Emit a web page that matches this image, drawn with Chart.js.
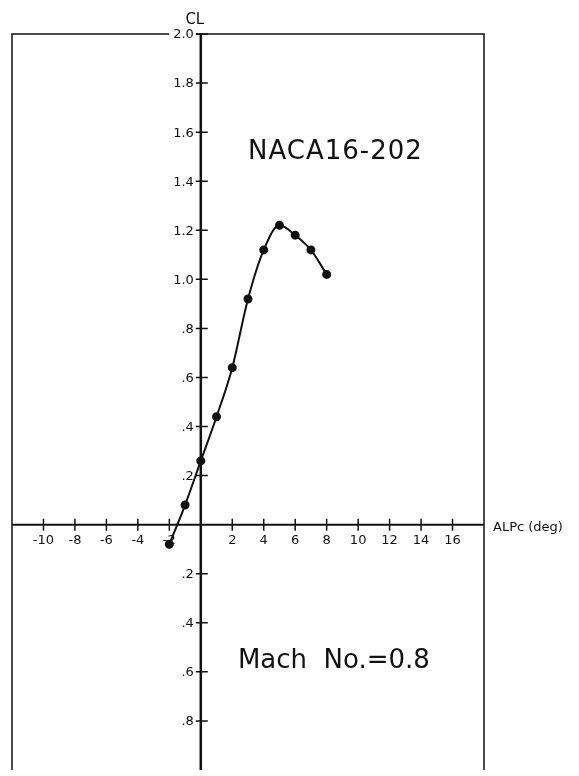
<!DOCTYPE html>
<html>
<head>
<meta charset="utf-8">
<script src="https://cdn.jsdelivr.net/npm/chart.js@4/dist/chart.umd.min.js"></script>
<style>
  html, body { margin: 0; padding: 0; background: #fff; }
  #wrap { width: 579px; height: 776px; }
</style>
</head>
<body>
<div id="wrap"><canvas id="lift-chart"></canvas></div>
<script>
// angle of attack (deg) and lift coefficient
const alphaDeg = [-2, -1, 0, 1, 2, 3, 4, 5, 6, 7, 8];
const liftCoef = [-0.08, 0.08, 0.26, 0.44, 0.64, 0.92, 1.12, 1.22, 1.18, 1.12, 1.02];

// tick values and the labels printed beside them
const xTickValues = [-10, -8, -6, -4, -2, 2, 4, 6, 8, 10, 12, 14, 16];
const xTickLabels = ['-10', '-8', '-6', '-4', '-2', '2', '4', '6', '8', '10', '12', '14', '16'];
const yTickValues = [-0.8, -0.6, -0.4, -0.2, 0.2, 0.4, 0.6, 0.8, 1.0, 1.2, 1.4, 1.6, 1.8, 2.0];
const yTickLabels = ['.8', '.6', '.4', '.2', '.2', '.4', '.6', '.8', '1.0', '1.2', '1.4', '1.6', '1.8', '2.0'];

const ctx = document.getElementById('lift-chart').getContext('2d');
const ink = '#111';

// draws the frame, the crossing axes, ticks and all the printed texts
const plotterAxes = {
  id: 'plotterAxes',
  beforeDatasetsDraw(chart) {
    const c = chart.ctx;
    const area = chart.chartArea;
    const xs = chart.scales.x;
    const ys = chart.scales.y;
    const x0 = xs.getPixelForValue(0);
    const y0 = ys.getPixelForValue(0);

    c.save();
    c.strokeStyle = ink;
    c.fillStyle = ink;
    c.lineCap = 'butt';

    // frame (left, top, right)
    c.lineWidth = 1.5;
    c.beginPath();
    c.moveTo(area.left, area.bottom);
    c.lineTo(area.left, area.top);
    c.lineTo(area.right, area.top);
    c.lineTo(area.right, area.bottom);
    c.stroke();

    // x axis
    c.lineWidth = 2;
    c.beginPath();
    c.moveTo(area.left, y0);
    c.lineTo(area.right, y0);
    c.stroke();

    // y axis
    c.lineWidth = 2.5;
    c.beginPath();
    c.moveTo(x0, area.top);
    c.lineTo(x0, area.bottom);
    c.stroke();

    // tick crosses
    c.lineWidth = 1.5;
    c.beginPath();
    xTickValues.forEach(v => {
      const px = xs.getPixelForValue(v);
      c.moveTo(px, y0 - 6);
      c.lineTo(px, y0 + 6);
    });
    yTickValues.forEach(v => {
      const py = ys.getPixelForValue(v);
      c.moveTo(x0 - 5, py);
      c.lineTo(x0 + 7, py);
    });
    c.stroke();

    // tick labels
    c.font = '13px "DejaVu Sans"';
    c.textAlign = 'center';
    c.textBaseline = 'top';
    xTickValues.forEach((v, i) => {
      c.fillText(xTickLabels[i], xs.getPixelForValue(v), y0 + 9);
    });
    c.textAlign = 'right';
    c.textBaseline = 'middle';
    yTickValues.forEach((v, i) => {
      const py = ys.getPixelForValue(v);
      if (v === 2.0) {
        // the top label sits in a gap of the frame line
        const w = c.measureText(yTickLabels[i]).width;
        c.fillStyle = '#fff';
        c.fillRect(x0 - 8 - w - 3, py - 3, w + 6, 6);
        c.fillStyle = ink;
      }
      c.fillText(yTickLabels[i], x0 - 7, py + 1);
    });

    // axis titles
    c.font = '15px "DejaVu Sans"';
    c.textAlign = 'center';
    c.textBaseline = 'alphabetic';
    c.fillText('CL', x0 - 6, area.top - 10);
    c.font = '13px "DejaVu Sans"';
    c.textAlign = 'left';
    c.textBaseline = 'middle';
    c.fillText('ALPc (deg)', area.right + 9, y0 + 3);

    // annotations
    c.font = '26px "DejaVu Sans"';
    c.textAlign = 'left';
    c.textBaseline = 'alphabetic';
    c.letterSpacing = '1px';
    c.fillText('NACA16-202', xs.getPixelForValue(3.0), ys.getPixelForValue(1.49));
    c.letterSpacing = '0px';
    c.fillText('Mach  No.=0.8', xs.getPixelForValue(2.36), ys.getPixelForValue(-0.585));
    c.restore();
  }
};

new Chart(ctx, {
  type: 'line',
  data: {
    datasets: [{
      label: 'CL',
      data: alphaDeg.map((a, i) => ({ x: a, y: liftCoef[i] })),
      borderColor: ink,
      borderWidth: 2,
      backgroundColor: ink,
      pointBackgroundColor: ink,
      pointBorderColor: ink,
      pointRadius: 3.5,
      cubicInterpolationMode: 'monotone',
      fill: false,
      clip: false
    }]
  },
  options: {
    responsive: true,
    maintainAspectRatio: false,
    animation: false,
    events: [],
    layout: { padding: { left: 12, right: 95, top: 34, bottom: 0 } },
    plugins: {
      legend: { display: false },
      title: { display: false },
      tooltip: { enabled: false }
    },
    scales: {
      x: { type: 'linear', min: -12, max: 18, display: false },
      y: { type: 'linear', min: -1, max: 2, display: false }
    }
  },
  plugins: [plotterAxes]
});
</script>
</body>
</html>
